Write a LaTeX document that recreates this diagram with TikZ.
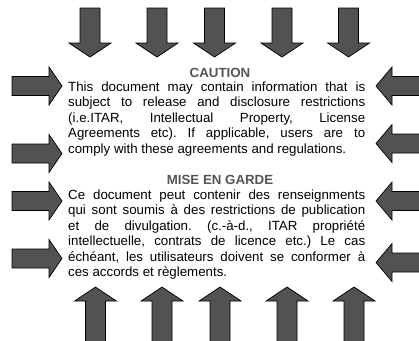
\documentclass[tikz,border=0pt]{standalone}
\usepackage{fontspec}
\setmainfont{Liberation Sans}
\definecolor{arrowgray}{RGB}{82,82,82}
\definecolor{titlegray}{RGB}{85,85,85}
\frenchspacing
\begin{document}
\begin{tikzpicture}[x=1pt,y=-1pt,
  arr/.style={fill=arrowgray,draw=black,line width=0.7pt,line join=miter},
  txt/.style={anchor=base west,inner sep=0pt,font=\fontsize{13.3}{15.4}\selectfont\frenchspacing},
  ttl/.style={anchor=base,inner sep=0pt,text=titlegray,font=\fontsize{13.3}{15.4}\selectfont\bfseries}]
\useasboundingbox (0,0) rectangle (419,340);
\fill[white] (0,0) rectangle (419,340);
% arrows from the top (pointing down)
\foreach \c in {90,157,214.5,282,348.5}
  \draw[arr] (\c-10,8) -- (\c+10,8) -- (\c+10,43) -- (\c+21,43) -- (\c,57) -- (\c-21,43) -- (\c-10,43) -- cycle;
% arrows from the bottom (pointing up)
\foreach \c in {95.5,162,220,287,354}
  \draw[arr] (\c-10,342) -- (\c-10,301) -- (\c-21,301) -- (\c,287) -- (\c+21,301) -- (\c+10,301) -- (\c+10,342);
% arrows from the left (pointing right)
\foreach \c in {86,153.5,201,258.5}
  \draw[arr] (12,\c-9.5) -- (49,\c-9.5) -- (49,\c-19) -- (62,\c) -- (49,\c+19) -- (49,\c+9.5) -- (12,\c+9.5) -- cycle;
% arrows from the right (pointing left)
\foreach \c in {86,143.5,201,262.5}
  \draw[arr] (422,\c-9.5) -- (392,\c-9.5) -- (392,\c-19) -- (376,\c) -- (392,\c+19) -- (392,\c+9.5) -- (422,\c+9.5);
% English notice
\node[ttl] (caution) at (220,77) {CAUTION};
\node[txt] (e1) at (68,91.5) {\makebox[297pt][s]{This document may contain information that is}};
\node[txt] (e2) at (68,106.9) {\makebox[297pt][s]{subject to release and disclosure restrictions}};
\node[txt] (e3) at (68,122.3) {\makebox[297pt][s]{(i.e.ITAR, Intellectual Property, License}};
\node[txt] (e4) at (68,137.7) {\makebox[297pt][s]{Agreements etc). If applicable, users are to}};
\node[txt] (e5) at (68,153.1) {comply with these agreements and regulations.};
% French notice
\node[ttl] (garde) at (220,184.5) {MISE EN GARDE};
\node[txt] (f1) at (68,199.5) {\makebox[297pt][s]{Ce document peut contenir des renseignments}};
\node[txt] (f2) at (68,214.9) {\makebox[297pt][s]{qui sont soumis à des restrictions de publication}};
\node[txt] (f3) at (68,230.3) {\makebox[297pt][s]{et de divulgation. (c.-à-d., ITAR propriété}};
\node[txt] (f4) at (68,245.7) {\makebox[297pt][s]{intellectuelle, contrats de licence etc.) Le cas}};
\node[txt] (f5) at (68,261.1) {\makebox[297pt][s]{échéant, les utilisateurs doivent se conformer à}};
\node[txt] (f6) at (68,276.5) {ces accords et règlements.};
\end{tikzpicture}
\end{document}
